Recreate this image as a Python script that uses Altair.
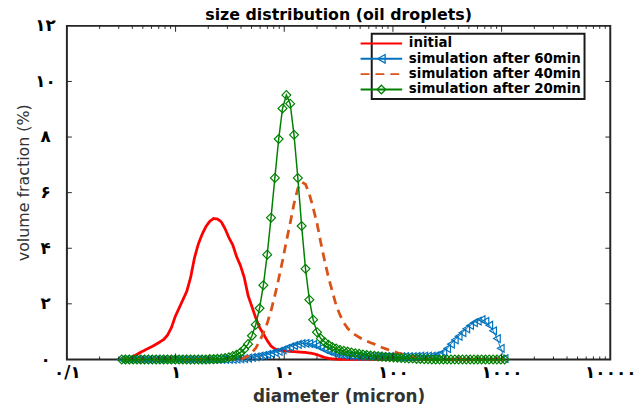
import altair as alt
import pandas as pd

# ---------------- data ----------------
diameter = [
    0.3195, 0.3461, 0.3759, 0.4079, 0.4420, 0.4793, 0.5197, 0.5634, 0.6113, 0.6635,
    0.7189, 0.7796, 0.8456, 0.9170, 0.9947, 1.079, 1.170, 1.268, 1.376, 1.492,
    1.619, 1.755, 1.903, 2.064, 2.239, 2.428, 2.633, 2.855, 3.097, 3.359,
    3.642, 3.950, 4.284, 4.647, 5.039, 5.465, 5.927, 6.427, 6.970, 7.559,
    8.198, 8.892, 9.643, 10.46, 11.34, 12.30, 13.34, 14.46, 15.69, 17.02,
    18.46, 20.01, 21.70, 23.54, 25.53, 27.68, 30.02, 32.56, 35.32, 38.30,
    41.54, 45.04, 48.84, 52.97, 57.45, 62.30, 67.57, 73.28, 79.47, 86.19,
    93.48, 101.4, 109.9, 119.3, 129.3, 140.3, 152.1, 165.0, 178.9, 193.9,
    210.3, 228.1, 247.4, 268.4, 291.1, 315.6, 342.3, 371.2, 402.6, 436.5,
    473.5, 513.4, 556.9, 604.0, 655.0, 710.4, 770.3, 835.4, 906.0, 982.6,
    1065.0,
]

initial = [
    0, 0, 0.02, 0.10, 0.18, 0.26, 0.33, 0.40, 0.47, 0.55,
    0.63, 0.72, 0.88, 1.15, 1.55, 1.85, 2.15, 2.45, 2.95, 3.65,
    4.15, 4.50, 4.78, 4.97, 5.07, 5.05, 4.95, 4.70, 4.38, 4.12,
    3.70, 3.38, 2.95, 2.30, 1.90, 1.50, 1.15, 0.92, 0.68, 0.48,
    0.38, 0.33, 0.32, 0.30, 0.29, 0.28, 0.27, 0.26, 0.25, 0.23,
    0.21, 0.17, 0.12, 0.07, 0.04, 0.02, 0.01, 0, 0, 0,
    0, 0, 0, 0, 0, 0, 0, 0, 0, 0,
    0, 0, 0, 0, 0, 0, 0, 0, 0, 0,
    0, 0, 0, 0, 0, 0, 0, 0, 0, 0,
    0, 0, 0, 0, 0, 0, 0, 0, 0, 0,
    0,
]

after_60 = [
    0, 0, 0, 0, 0, 0, 0, 0, 0, 0,
    0, 0, 0, 0, 0, 0, 0, 0, 0, 0,
    0, 0, 0, 0, 0, 0, 0, 0, 0, 0,
    0.01, 0.02, 0.03, 0.05, 0.07, 0.09, 0.12, 0.15, 0.18, 0.21,
    0.25, 0.29, 0.34, 0.40, 0.45, 0.50, 0.54, 0.57, 0.58, 0.57,
    0.54, 0.49, 0.42, 0.35, 0.29, 0.24, 0.20, 0.17, 0.15, 0.14,
    0.13, 0.13, 0.12, 0.12, 0.12, 0.11, 0.11, 0.11, 0.10, 0.10,
    0.10, 0.10, 0.10, 0.10, 0.10, 0.10, 0.10, 0.11, 0.12, 0.12,
    0.12, 0.12, 0.14, 0.18, 0.26, 0.39, 0.55, 0.70, 0.83, 0.96,
    1.10, 1.22, 1.32, 1.38, 1.43, 1.37, 1.23, 1.03, 0.75, 0.40,
    0.03,
]

after_40 = [
    0, 0, 0, 0, 0, 0, 0, 0, 0, 0,
    0, 0, 0, 0, 0, 0, 0, 0, 0, 0,
    0, 0, 0, 0, 0, 0, 0, 0, 0, 0,
    0, 0.02, 0.05, 0.13, 0.25, 0.40, 0.65, 0.95, 1.30, 1.75,
    2.30, 2.90, 3.55, 4.25, 4.90, 5.60, 6.15, 6.38, 6.30, 5.95,
    5.45, 4.90, 4.20, 3.55, 2.95, 2.45, 1.95, 1.60, 1.32, 1.12,
    0.98, 0.88, 0.80, 0.72, 0.66, 0.60, 0.55, 0.49, 0.43, 0.38,
    0.33, 0.29, 0.24, 0.20, 0.16, 0.12, 0.09, 0.06, 0.04, 0.02,
    0.01, 0, 0, 0, 0, 0, 0, 0, 0, 0,
    0, 0, 0, 0, 0, 0, 0, 0, 0, 0,
    0,
]

after_20 = [
    0, 0, 0, 0, 0, 0, 0, 0, 0, 0,
    0, 0, 0, 0, 0, 0, 0, 0, 0, 0,
    0, 0, 0, 0.01, 0.01, 0.02, 0.03, 0.05, 0.08, 0.12,
    0.17, 0.25, 0.37, 0.55, 0.85, 1.25, 1.84, 2.67, 3.77, 5.10,
    6.53, 7.93, 9.03, 9.51, 9.20, 8.08, 6.53, 4.80, 3.26, 2.15,
    1.43, 0.98, 0.75, 0.63, 0.53, 0.45, 0.39, 0.34, 0.31, 0.28,
    0.25, 0.22, 0.20, 0.18, 0.16, 0.14, 0.13, 0.11, 0.10, 0.09,
    0.08, 0.07, 0.06, 0.05, 0.04, 0.03, 0.03, 0.02, 0.02, 0.01,
    0.01, 0, 0, 0, 0, 0, 0, 0, 0, 0,
    0, 0, 0, 0, 0, 0, 0, 0, 0, 0,
    0,
]

series_names = ["initial", "simulation after 60min",
                "simulation after 40min", "simulation after 20min"]
series_colors = ["#FF0000", "#0072BD", "#D95319", "#008000"]
series_dash = [[1, 0], [1, 0], [9, 6], [1, 0]]
marker_shapes = ["circle", "triangle-left", "circle", "diamond"]
marker_strokes = ["transparent", "#0072BD", "transparent", "#008000"]

x_tick_values = [0.1, 1, 10, 100, 1000, 10000]
x_tick_labels = ["۰/۱", "۱", "۱۰", "۱۰۰", "۱۰۰۰", "۱۰۰۰۰"]
x_major_inner = [1, 10, 100, 1000]
minor_multipliers = [2, 3, 4, 5, 6, 7, 8, 9]
decades = [0.1, 1, 10, 100, 1000]
y_tick_values = [0, 2, 4, 6, 8, 10, 12]
y_tick_labels = ["۰", "۲", "۴", "۶", "۸", "۱۰", "۱۲"]
y_tick_inner = [2, 4, 6, 8, 10]

title_text = "size distribution (oil droplets)"
x_title = "diameter (micron)"
y_title = "volume fraction (%)"

# ---------------- build table ----------------
# marker legend keys differ from the line legend keys so the two legends stay apart
marker_keys = [n + " (marker)" for n in series_names]
rows = []
for name, key, vals in zip(series_names, marker_keys, [initial, after_60, after_40, after_20]):
    for d, v in zip(diameter, vals):
        rows.append({"diameter": d, "value": v, "series": name, "mk": key})
df = pd.DataFrame(rows)

x_minor = [m * d for d in decades for m in minor_multipliers]

W, H = 549, 337
FONT = "DejaVu Sans"
FRAME = "#262626"

x_expr = " : ".join(
    f"abs(datum.value / {v} - 1) < 0.01 ? '{lab}'" for v, lab in zip(x_tick_values, x_tick_labels)
) + " : ''"
y_expr = " : ".join(
    f"abs(datum.value - {v}) < 0.01 ? '{lab}'" for v, lab in zip(y_tick_values, y_tick_labels)
) + " : ''"

xscale = alt.Scale(type="log", domain=[0.1, 10000], nice=False)
yscale = alt.Scale(domain=[0, 12], nice=False, zero=False)

x_axis = alt.Axis(values=x_tick_values, labelExpr=x_expr, tickSize=0, domain=False, grid=False,
                  labelFont=FONT, labelFontSize=17, labelFontWeight="bold", labelColor="black",
                  labelPadding=5, labelFlush=False, labelOverlap=False,
                  title=x_title, titleFont=FONT, titleFontSize=17, titleFontWeight="bold",
                  titleColor="#333333", titlePadding=9)
y_axis = alt.Axis(values=y_tick_values, labelExpr=y_expr, tickSize=0, domain=False, grid=False,
                  labelFont=FONT, labelFontSize=17, labelFontWeight="bold", labelColor="black",
                  labelAlign="center", labelPadding=22, labelOverlap=False,
                  title=y_title, titleFont=FONT, titleFontSize=16, titleFontWeight="normal",
                  titleColor="#333333", titlePadding=3, titleY=158, titleAlign="center")

X = alt.X("diameter:Q", scale=xscale, axis=x_axis)
Y = alt.Y("value:Q", scale=yscale, axis=y_axis)

LEG_X, LEG_Y = 308, 8
legend_lines = alt.Legend(title=None, orient="none", legendX=LEG_X, legendY=LEG_Y,
                          strokeColor="#1a1a1a", padding=3, rowPadding=0.5,
                          symbolType="M-4.2,0L4.2,0", symbolSize=100, symbolStrokeWidth=2,
                          labelFont=FONT, labelFontSize=13.5, labelFontWeight="bold",
                          labelColor="black", labelOffset=21, labelLimit=400, zindex=1)
legend_marks = alt.Legend(title=None, orient="none", legendX=LEG_X, legendY=LEG_Y,
                          padding=3, rowPadding=0.5, symbolSize=75, symbolStrokeWidth=1.3,
                          labelFont=FONT, labelFontSize=13.5, labelFontWeight="bold",
                          labelExpr="''", labelOpacity=0, labelOffset=5, labelLimit=400, zindex=2)

color_enc = alt.Color("series:N", scale=alt.Scale(domain=series_names, range=series_colors),
                      legend=legend_lines)
dash_enc = alt.StrokeDash("series:N", scale=alt.Scale(domain=series_names, range=series_dash),
                          legend=legend_lines)
shape_enc = alt.Shape("mk:N", scale=alt.Scale(domain=marker_keys, range=marker_shapes),
                      legend=legend_marks)
stroke_enc = alt.Stroke("mk:N", scale=alt.Scale(domain=marker_keys, range=marker_strokes),
                        legend=legend_marks)

base = alt.Chart(df)


def line_layer(name, width):
    return base.transform_filter(alt.datum.series == name).mark_line(strokeWidth=width).encode(
        x=X, y=Y, color=color_enc, strokeDash=dash_enc)


def point_layer(name, size):
    return base.transform_filter(alt.datum.series == name).mark_point(
        filled=False, size=size, strokeWidth=1.2, opacity=1).encode(
        x=X, y=Y, shape=shape_enc, stroke=stroke_enc)


tick_x_major = pd.DataFrame({"t": x_major_inner})
tick_x_minor = pd.DataFrame({"t": x_minor})
tick_y = pd.DataFrame({"t": y_tick_inner})

XT = alt.X("t:Q", scale=xscale, axis=x_axis)
YT = alt.Y("t:Q", scale=yscale, axis=y_axis)

ticks = [
    alt.Chart(tick_x_major).mark_rule(color=FRAME, strokeWidth=1).encode(x=XT, y=alt.value(H), y2=alt.value(H - 6)),
    alt.Chart(tick_x_major).mark_rule(color=FRAME, strokeWidth=1).encode(x=XT, y=alt.value(0), y2=alt.value(6)),
    alt.Chart(tick_x_minor).mark_rule(color=FRAME, strokeWidth=1).encode(x=XT, y=alt.value(H), y2=alt.value(H - 3)),
    alt.Chart(tick_x_minor).mark_rule(color=FRAME, strokeWidth=1).encode(x=XT, y=alt.value(0), y2=alt.value(3)),
    alt.Chart(tick_y).mark_rule(color=FRAME, strokeWidth=1).encode(y=YT, x=alt.value(0), x2=alt.value(5)),
    alt.Chart(tick_y).mark_rule(color=FRAME, strokeWidth=1).encode(y=YT, x=alt.value(W), x2=alt.value(W - 5)),
]

chart = alt.layer(
    line_layer(series_names[0], 2.8),
    line_layer(series_names[1], 1.0),
    point_layer(series_names[1], 60),
    line_layer(series_names[2], 2.8),
    line_layer(series_names[3], 1.5),
    point_layer(series_names[3], 80),
    *ticks,
).properties(
    width=W, height=H,
    title=alt.TitleParams(text=title_text, font=FONT, fontSize=16, fontWeight="bold",
                          color="black", offset=-6, anchor="middle", frame="group"),
    autosize=alt.AutoSizeParams(type="none"),
    padding={"left": 59.5, "top": 16, "right": 26, "bottom": 44},
).configure_view(stroke=FRAME, strokeWidth=2).configure_legend(strokeWidth=2)

chart.save("out.html", embed_options={"renderer": "svg", "actions": False})
